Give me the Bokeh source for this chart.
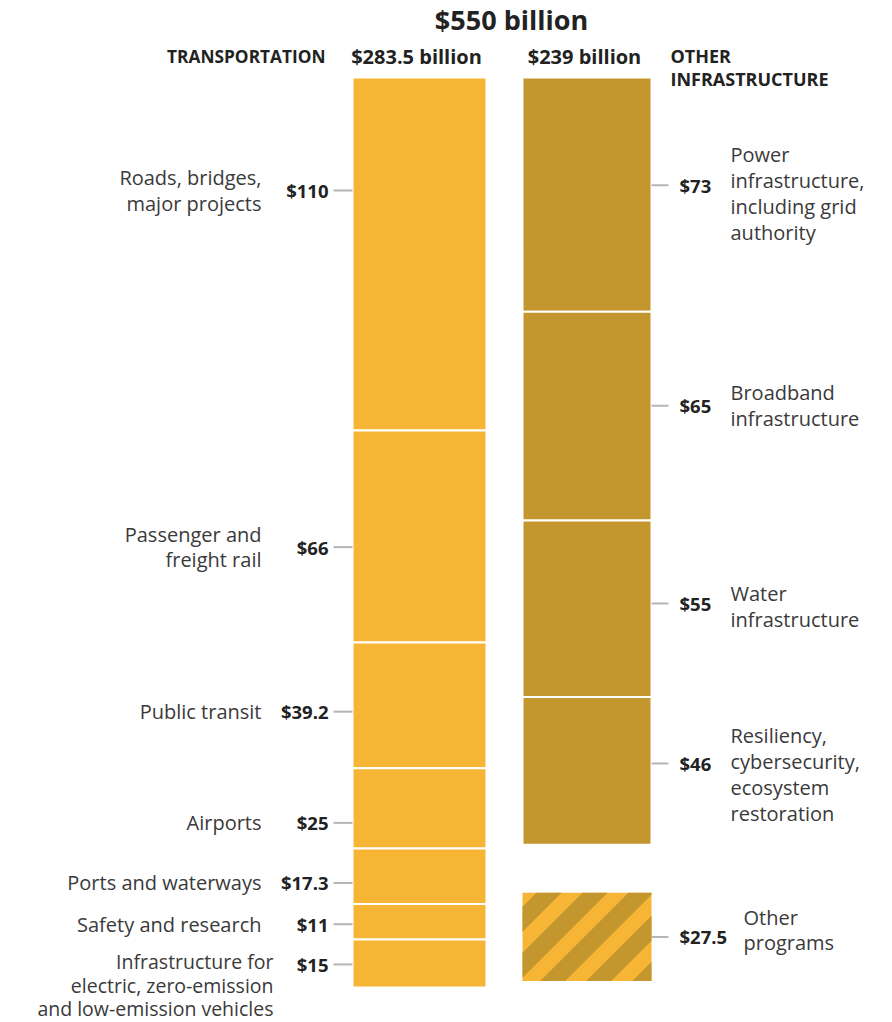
from bokeh.plotting import figure
from bokeh.models import Range1d
from bokeh.embed import file_html
from bokeh.resources import INLINE
from bokeh.core.properties import value
import numpy as np

# ---- data ----
left_labels = ["Roads, bridges,\nmajor projects", "Passenger and\nfreight rail", "Public transit",
               "Airports", "Ports and waterways", "Safety and research",
               "Infrastructure for\nelectric, zero-emission\nand low-emission vehicles"]
left_values = [110, 66, 39.2, 25, 17.3, 11, 15]
left_value_text = ["$110", "$66", "$39.2", "$25", "$17.3", "$11", "$15"]

right_labels = ["Power\ninfrastructure,\nincluding grid\nauthority", "Broadband\ninfrastructure",
                "Water\ninfrastructure", "Resiliency,\ncybersecurity,\necosystem\nrestoration"]
right_values = [73, 65, 55, 46]
right_value_text = ["$73", "$65", "$55", "$46"]

other_label = "Other\nprograms"
other_value = 27.5
other_value_text = "$27.5"

title = "$550 billion"
left_header = "TRANSPORTATION"
left_total = "$283.5 billion"
right_total = "$239 billion"
right_header = "OTHER\nINFRASTRUCTURE"

# ---- layout / style ----
K = 3.21          # px per billion
TOP = 77          # screen y of bar tops
GAP = 15          # gap (billions) before "Other programs"
LIGHT = "#F7B535"
DARK = "#C4962E"
TXT = "#3a3a3a"
VAL = "#222222"
LEAD = "#b5b5b5"
FONT = value("Open Sans")
LBL_SIZE = "20px"
VAL_SIZE = "18.5px"
LH = 0.93
# label anchor position within each segment (fraction from top)
left_frac = [0.32, 0.55, 0.55, 0.68, 0.62, 0.57, 0.52]
right_frac = [0.46, 0.45, 0.47, 0.45]
LX0, LX1 = 352, 486
RX0, RX1 = 522, 651


def sy(screen_y):
    return (screen_y - TOP) / K


W, H = 892, 1022
p = figure(width=W, height=H, output_backend="svg", toolbar_location=None,
           x_range=Range1d(0, W), y_range=Range1d(sy(H), sy(0)),
           x_axis_location=None, y_axis_location=None, min_border=0)
p.grid.visible = False
p.outline_line_color = None
p.background_fill_color = "white"

# left stack
lv = np.array(left_values, dtype=float)
l_top = np.concatenate([[0], np.cumsum(lv)[:-1]])
l_bot = np.cumsum(lv)
p.quad(left=LX0, right=LX1, top=l_top, bottom=l_bot, fill_color=LIGHT,
       line_color="white", line_width=2)
l_mid = l_top + lv * np.array(left_frac)

# right stack
rv = np.array(right_values, dtype=float)
r_top = np.concatenate([[0], np.cumsum(rv)[:-1]])
r_bot = np.cumsum(rv)
p.quad(left=RX0, right=RX1, top=r_top, bottom=r_bot, fill_color=DARK,
       line_color="white", line_width=2)
r_mid = r_top + rv * np.array(right_frac)

# other programs (striped)
o_top = rv.sum() + GAP
o_bot = o_top + other_value
p.quad(left=[RX0], right=[RX1], top=[o_top], bottom=[o_bot], fill_color=LIGHT,
       line_color=None)
o_mid = (o_top + o_bot) / 2


def clip(poly, xmin, xmax, ymin, ymax):
    edges = [(0, xmin, True), (0, xmax, False), (1, ymin, True), (1, ymax, False)]
    for axis, b, greater in edges:
        def inside(pt):
            return pt[axis] >= b if greater else pt[axis] <= b

        def inter(a, c):
            t = (b - a[axis]) / (c[axis] - a[axis])
            return (a[0] + t * (c[0] - a[0]), a[1] + t * (c[1] - a[1]))
        out = []
        for i in range(len(poly)):
            cur, prev = poly[i], poly[i - 1]
            if inside(cur):
                if not inside(prev):
                    out.append(inter(prev, cur))
                out.append(cur)
            elif inside(prev):
                out.append(inter(prev, cur))
        poly = out
        if not poly:
            break
    return poly


# stripes in screen px, converted to value units for y
Y0, Y1 = TOP + o_top * K, TOP + o_bot * K
PER, SW = 46, 25
xs, ys = [], []
c = RX0 + Y0 - 32
while c < RX1 + Y1 + PER:
    ya, yb = Y0 - 10, Y1 + 10
    band = [(c - ya, ya), (c - yb, yb), (c + SW - yb, yb), (c + SW - ya, ya)]
    poly = clip(band, RX0, RX1, Y0, Y1)
    if len(poly) >= 3:
        xs.append([pt[0] for pt in poly])
        ys.append([sy(pt[1]) for pt in poly])
    c += PER
p.patches(xs, ys, fill_color=DARK, line_color=None)

# leader lines
p.segment(x0=333, x1=LX0, y0=l_mid, y1=l_mid, line_color=LEAD, line_width=2)
r_all_mid = list(r_mid) + [o_mid]
p.segment(x0=RX1, x1=668, y0=r_all_mid, y1=r_all_mid, line_color=LEAD, line_width=2)

# left value labels
p.text(x=328, y=l_mid, text=left_value_text, text_align="right", text_baseline="middle",
       text_font=FONT, text_font_style="bold", text_font_size=VAL_SIZE, text_color=VAL)
# left category labels
p.text(x=261, y=l_mid[:-1], text=left_labels[:-1], text_align="right", text_baseline="middle",
       text_font=FONT, text_font_size=LBL_SIZE, text_color=TXT, text_line_height=LH)
p.text(x=[273], y=[l_mid[-1]], text=[left_labels[-1]], text_align="right", text_baseline="top",
       y_offset=-16, text_font=FONT, text_font_size="19.5px", text_color=TXT,
       text_line_height=0.87)

# right value labels
p.text(x=679, y=r_all_mid, text=right_value_text + [other_value_text], text_align="left",
       text_baseline="middle", text_font=FONT, text_font_style="bold", text_font_size=VAL_SIZE,
       text_color=VAL)
p.text(x=[730] * 4, y=r_mid, text=right_labels, text_align="left", text_baseline="middle",
       y_offset=[8, 0, 3, 11], text_font=FONT, text_font_size=LBL_SIZE, text_color=TXT,
       text_line_height=0.96)
p.text(x=[743], y=[o_mid], text=[other_label], text_align="left", text_baseline="middle",
       y_offset=-7, text_font=FONT, text_font_size=LBL_SIZE, text_color=TXT,
       text_line_height=0.96)

# headers
p.text(x=[511], y=[sy(19)], text=[title], text_align="center", text_baseline="middle",
       text_font=FONT, text_font_style="bold", text_font_size="27px", text_color=VAL)
p.text(x=[325], y=[sy(56)], text=[left_header], text_align="right", text_baseline="middle",
       text_font=FONT, text_font_style="bold", text_font_size="17.3px", text_color=VAL)
p.text(x=[416, 584], y=[sy(56)] * 2, text=[left_total, right_total], text_align="center",
       text_baseline="middle", text_font=FONT, text_font_style="bold", text_font_size="20px",
       text_color=VAL)
p.text(x=[670], y=[sy(67)], text=[right_header], text_align="left", text_baseline="middle",
       text_font=FONT, text_font_style="bold", text_font_size="18px", text_color=VAL,
       text_line_height=0.97)

open("out.html", "w").write(file_html(p, INLINE))
